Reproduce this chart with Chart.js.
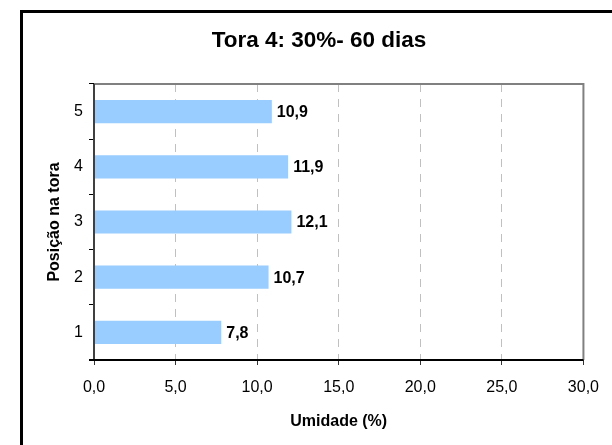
<!DOCTYPE html>
<html>
<head>
<meta charset="utf-8">
<script src="https://cdn.jsdelivr.net/npm/chart.js@4/dist/chart.umd.min.js"></script>
<style>
html,body{margin:0;padding:0;background:#fff;}
#wrap{position:relative;width:612px;height:445px;}
canvas{display:block;}
</style>
</head>
<body>
<div id="wrap"><canvas id="c" width="612" height="445"></canvas></div>
<script>
const chartTitle = "Tora 4: 30%- 60 dias";
const categories = ["1", "2", "3", "4", "5"];
const values = [7.8, 10.7, 12.1, 11.9, 10.9];
const xTickValues = [0, 5, 10, 15, 20, 25, 30];
const xAxisTitle = "Umidade (%)";
const yAxisTitle = "Posição na tora";

const FONT = "'Liberation Sans', Arial, sans-serif";
const fmt = v => Number(v).toFixed(1).replace('.', ',');

const framePlugin = {
  id: 'frame',
  beforeDraw(chart) {
    const ctx = chart.ctx;
    ctx.save();
    ctx.fillStyle = '#fff';
    ctx.fillRect(0, 0, chart.width, chart.height);
    ctx.fillStyle = '#000';
    ctx.fillRect(20, 10, chart.width - 20, 3);
    ctx.fillRect(20, 10, 3, chart.height - 10);
    // chart title
    ctx.font = "bold 22.5px " + FONT;
    ctx.textAlign = 'center';
    ctx.textBaseline = 'middle';
    ctx.fillText(chartTitle, 319, 41);
    ctx.restore();
  },
  afterDatasetsDraw(chart) {
    const ctx = chart.ctx;
    const a = chart.chartArea;
    ctx.save();
    ctx.setLineDash([]);
    ctx.lineWidth = 2;
    ctx.strokeStyle = '#808080';
    ctx.beginPath();
    ctx.moveTo(a.left, a.top);
    ctx.lineTo(a.right, a.top);
    ctx.lineTo(a.right, a.bottom);
    ctx.stroke();
    ctx.strokeStyle = '#404040';
    ctx.beginPath();
    ctx.moveTo(a.left, a.top);
    ctx.lineTo(a.left, a.bottom);
    ctx.stroke();
    ctx.strokeStyle = '#000';
    ctx.beginPath();
    ctx.moveTo(a.left - 5, a.bottom);
    ctx.lineTo(a.right, a.bottom);
    ctx.stroke();
    // value labels
    const meta = chart.getDatasetMeta(0);
    ctx.fillStyle = '#000';
    ctx.font = "bold 16px " + FONT;
    ctx.textAlign = 'left';
    ctx.textBaseline = 'middle';
    meta.data.forEach((bar, i) => {
      ctx.fillText(fmt(chart.data.datasets[0].data[i]), bar.x + 5, bar.y + 1);
    });
    ctx.restore();
  }
};

new Chart(document.getElementById('c'), {
  type: 'bar',
  data: {
    labels: categories,
    datasets: [{
      data: values,
      backgroundColor: '#99CCFF',
      borderWidth: 0,
      barPercentage: 0.42,
      categoryPercentage: 1.0
    }]
  },
  plugins: [framePlugin],
  options: {
    indexAxis: 'y',
    responsive: false,
    animation: false,
    devicePixelRatio: 1,
    layout: { padding: { left: 0, right: 27, top: 84, bottom: 0 } },
    plugins: {
      legend: { display: false },
      tooltip: { enabled: false },
      title: { display: false }
    },
    scales: {
      x: {
        type: 'linear',
        min: 0,
        max: 30,
        afterBuildTicks(scale) { scale.ticks = xTickValues.map(v => ({ value: v })); },
        afterFit(scale) { scale.height = 85; },
        ticks: {
          color: '#000',
          font: { family: FONT, size: 16 },
          padding: 13,
          callback: v => fmt(v),
          maxRotation: 0
        },
        grid: {
          color: ctx => (ctx.tick && (ctx.tick.value === 0 || ctx.tick.value === 30)) ? 'rgba(0,0,0,0)' : '#c0c0c0',
          lineWidth: 1,
          drawTicks: true,
          tickLength: 5,
          tickColor: '#333',
          tickBorderDash: []
        },
        border: { display: false, dash: [8, 7] },
        title: {
          display: true,
          text: xAxisTitle,
          color: '#000',
          font: { family: FONT, size: 16, weight: 'bold' },
          padding: { top: 0, bottom: 13.4 }
        }
      },
      y: {
        type: 'category',
        reverse: true,
        afterFit(scale) { scale.width = 94; },
        ticks: {
          color: '#000',
          font: { family: FONT, size: 16 },
          padding: 6
        },
        grid: {
          offset: true,
          drawOnChartArea: false,
          drawTicks: true,
          tickLength: 5,
          tickColor: '#000',
          color: '#000'
        },
        border: { display: false },
        title: {
          display: true,
          text: yAxisTitle,
          color: '#000',
          font: { family: FONT, size: 16, weight: 'bold' },
          padding: { top: 45, bottom: 0 }
        }
      }
    }
  }
});
</script>
</body>
</html>
